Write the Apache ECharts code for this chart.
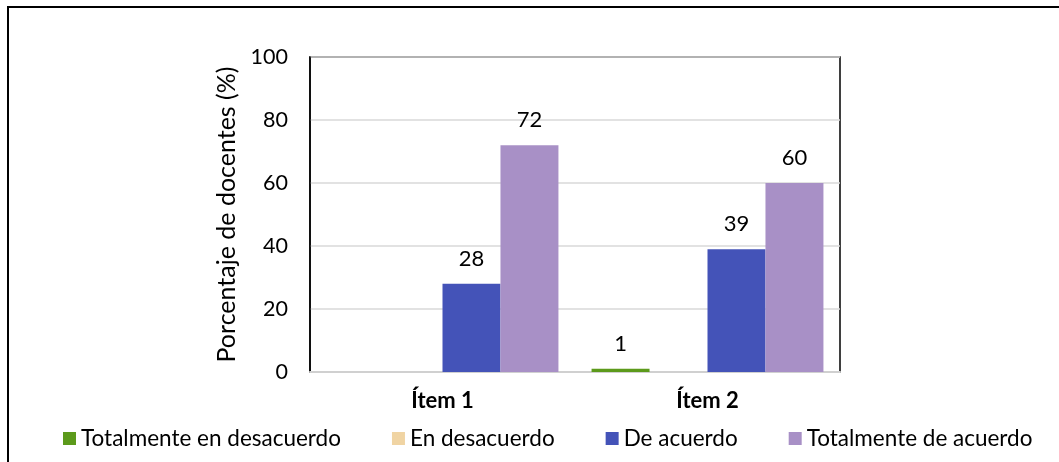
<!DOCTYPE html>
<html><head><meta charset="utf-8">
<script src="https://cdn.jsdelivr.net/npm/echarts@6/dist/echarts.min.js"></script>
<style>html,body{margin:0;padding:0;background:#fff}#c{width:1059px;height:462px}</style>
</head><body><div id="c"></div>
<script>
const categories = ['Ítem 1', 'Ítem 2'];
const seriesNames = ['Totalmente en desacuerdo', 'En desacuerdo', 'De acuerdo', 'Totalmente de acuerdo'];
const totDesacuerdo = [0, 1];
const enDesacuerdo = [0, 0];
const deAcuerdo = [28, 39];
const totAcuerdo = [72, 60];
const colors = ['#5c9a1b', '#f0d4a3', '#4453b8', '#a890c6'];
const yTicks = [0, 20, 40, 60, 80, 100];

const FONT = 'Lato';
const allData = [totDesacuerdo, enDesacuerdo, deAcuerdo, totAcuerdo];
const chart = echarts.init(document.getElementById('c'));
chart.setOption({
  animation: false,
  textStyle: { fontFamily: FONT },
  graphic: [{ type: 'rect', shape: { x: 8, y: 7, width: 1200, height: 600 }, style: { fill: 'none', stroke: '#000', lineWidth: 2 }, z: 100 }],
  grid: { left: 310, right: 219, top: 57, bottom: 90, show: true, borderColor: '#000', borderWidth: 1.5 },
  legend: {
    top: 422, left: 58, itemWidth: 13, itemHeight: 13, itemGap: 51, icon: 'rect',
    textStyle: { fontFamily: FONT, fontSize: 22.5, color: '#000' },
    data: seriesNames
  },
  xAxis: {
    type: 'category', data: categories,
    axisLine: { lineStyle: { color: '#d0d0d0', width: 2 } },
    axisTick: { show: false },
    axisLabel: { fontFamily: FONT, fontSize: 22, fontWeight: 'bold', color: '#000', margin: 18 }
  },
  yAxis: {
    type: 'value', min: yTicks[0], max: yTicks[yTicks.length - 1], interval: 20,
    name: 'Porcentaje de docentes (%)', nameLocation: 'middle', nameGap: 60,
    nameTextStyle: { fontFamily: FONT, fontSize: 25, color: '#000' },
    axisLine: { show: true, lineStyle: { color: '#000', width: 1.5 } },
    axisTick: { show: false },
    axisLabel: { fontFamily: FONT, fontSize: 21.5, color: '#000', margin: 22 },
    splitLine: { lineStyle: { color: '#d9d9d9', width: 1.5 } }
  },
  series: seriesNames.map((n, i) => ({
    name: n, type: 'bar', data: allData[i], barGap: '0%', barCategoryGap: '12.5%',
    itemStyle: { color: colors[i] },
    label: {
      show: true, position: 'top', distance: 14, fontFamily: FONT, fontSize: 22, color: '#000',
      formatter: p => p.value === 0 ? '' : String(p.value)
    }
  }))
});
</script></body></html>
